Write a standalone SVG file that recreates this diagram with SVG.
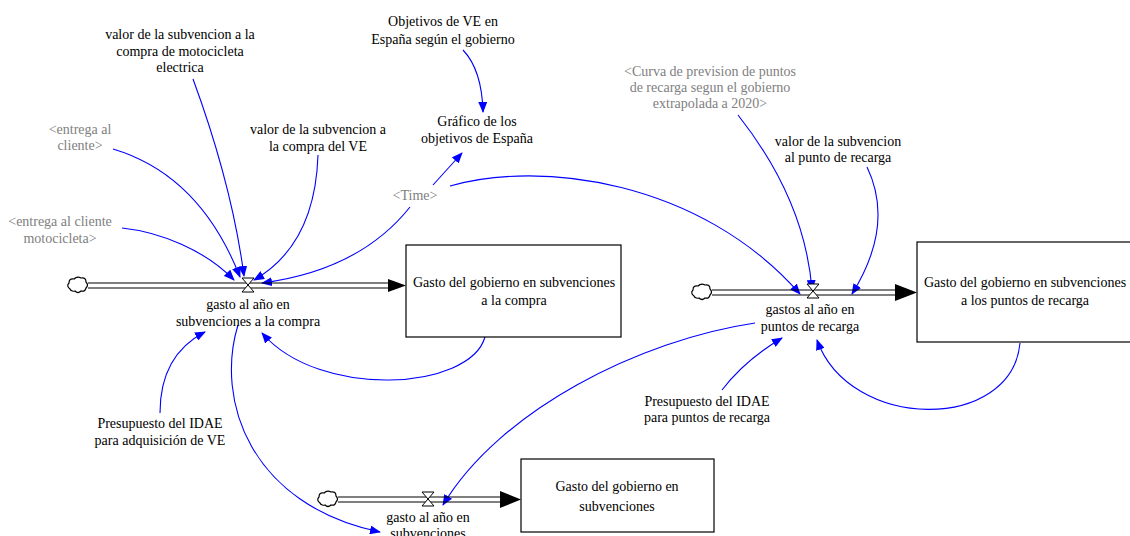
<svg xmlns="http://www.w3.org/2000/svg" width="1130" height="536" viewBox="0 0 1130 536">
<style>
text{font-family:"Liberation Serif","Times New Roman",serif;font-size:14px;fill:#000;text-anchor:middle}
text.g{fill:#808080}
.stock{fill:#fff;stroke:#000;stroke-width:1.2}
.pipe{stroke:#000;stroke-width:1.2;fill:none}
.valve{fill:#fff;stroke:#000;stroke-width:1}
.cloud{fill:#fff;stroke:#000;stroke-width:1.2}
.link{fill:none;stroke:#0000ff;stroke-width:1.1;marker-end:url(#ah)}
</style>
<defs>
<marker id="ah" markerUnits="userSpaceOnUse" markerWidth="11" markerHeight="9" refX="10" refY="4.5" orient="auto">
<path d="M0,0 L11,4.5 L0,9 z" fill="#0000ff"/>
</marker>
</defs>
<rect width="1130" height="536" fill="#fff"/>

<g id="connectors">
<path class="link" d="M193,79 Q232,185 244,276"/>
<path class="link" d="M113,149 Q200,175 240,277"/>
<path class="link" d="M122,228 C160,232 205,250 234,280"/>
<path class="link" d="M318,155 Q315,245 254,280"/>
<path class="link" d="M410,207 Q360,270 262,283"/>
<path class="link" d="M433,185 L462,153"/>
<path class="link" d="M450,186 C540,160 700,180 800,294"/>
<path class="link" d="M463,50 Q482,70 483,112"/>
<path class="link" d="M738,115 Q805,200 812,290"/>
<path class="link" d="M867,167 Q895,225 852,294"/>
<path class="link" d="M722,390 Q745,360 782,338"/>
<path class="link" d="M1020,343 C1012,432 850,432 817,340"/>
<path class="link" d="M755,323 C640,340 500,410 443,505"/>
<path class="link" d="M485,337 C470,390 320,400 262,333"/>
<path class="link" d="M160,413 Q160,355 205,332"/>
<path class="link" d="M238,325 C215,400 250,505 380,532"/>
</g>

<g id="flow1">
<path class="cloud" d="M70,289 q-4,-3 -1,-6 q0,-5 5,-4 q3,-3 7,-1 q5,-1 5,4 q3,3 0,6 q-1,4 -5,3 q-3,3 -6,0 q-4,1 -5,-2 z"/>
<line class="pipe" x1="88" y1="283" x2="392" y2="283"/>
<line class="pipe" x1="88" y1="288" x2="392" y2="288"/>
<polygon points="388,279 406,285.5 388,292" fill="#000"/>
<path class="valve" d="M242,278 L254,278 L248,285 L254,292 L242,292 L248,285 z"/>
<text x="248" y="309">gasto al año en</text>
<text x="248" y="326">subvenciones a la compra</text>
</g>

<g id="flow2">
<path class="cloud" d="M694,296 q-4,-3 -1,-6 q0,-5 5,-4 q3,-3 7,-1 q5,-1 5,4 q3,3 0,6 q-1,4 -5,3 q-3,3 -6,0 q-4,1 -5,-2 z"/>
<line class="pipe" x1="712" y1="290" x2="897" y2="290"/>
<line class="pipe" x1="712" y1="295" x2="897" y2="295"/>
<polygon points="895,284 917,292.5 895,301" fill="#000"/>
<path class="valve" d="M807,284 L819,284 L813,291 L819,298 L807,298 L813,291 z"/>
<text x="810" y="314">gastos al año en</text>
<text x="810" y="331">puntos de recarga</text>
</g>

<g id="flow3">
<path class="cloud" d="M320,503 q-4,-3 -1,-6 q0,-5 5,-4 q3,-3 7,-1 q5,-1 5,4 q3,3 0,6 q-1,4 -5,3 q-3,3 -6,0 q-4,1 -5,-2 z"/>
<line class="pipe" x1="338" y1="497" x2="503" y2="497"/>
<line class="pipe" x1="338" y1="502" x2="503" y2="502"/>
<polygon points="500,491 521,499.5 500,508" fill="#000"/>
<path class="valve" d="M422,492 L434,492 L428,499 L434,506 L422,506 L428,499 z"/>
<text x="428" y="522">gasto al año en</text>
<text x="428" y="538">subvenciones</text>
</g>

<g id="stock1">
<rect class="stock" x="406" y="245" width="215" height="92"/>
<text x="514" y="287">Gasto del gobierno en subvenciones</text>
<text x="514" y="305">a la compra</text>
</g>
<g id="stock2">
<rect class="stock" x="917" y="242" width="216" height="100"/>
<text x="1025" y="287">Gasto del gobierno en subvenciones</text>
<text x="1025" y="305">a los puntos de recarga</text>
</g>
<g id="stock3">
<rect class="stock" x="521" y="459" width="193" height="73"/>
<text x="617" y="491">Gasto del gobierno en</text>
<text x="617" y="511">subvenciones</text>
</g>

<g id="v_moto"><text x="180" y="39">valor de la subvencion a la</text><text x="180" y="56">compra de motocicleta</text><text x="180" y="72">electrica</text></g>
<g id="v_entrega"><text class="g" x="80" y="134">&lt;entrega al</text><text class="g" x="80" y="150">cliente&gt;</text></g>
<g id="v_entrega_moto"><text class="g" x="60" y="226">&lt;entrega al cliente</text><text class="g" x="60" y="243">motocicleta&gt;</text></g>
<g id="v_ve"><text x="318" y="134">valor de la subvencion a</text><text x="318" y="151">la compra del VE</text></g>
<g id="v_objetivos"><text x="443" y="26">Objetivos de VE en</text><text x="443" y="44">España según el gobierno</text></g>
<g id="v_grafico"><text x="477" y="126">Gráfico de los</text><text x="477" y="143">objetivos de España</text></g>
<g id="v_time"><text class="g" x="415" y="200">&lt;Time&gt;</text></g>
<g id="v_curva"><text class="g" x="710" y="76">&lt;Curva de prevision de puntos</text><text class="g" x="710" y="92">de recarga segun el gobierno</text><text class="g" x="710" y="108">extrapolada a 2020&gt;</text></g>
<g id="v_punto"><text x="838" y="146">valor de la subvencion</text><text x="838" y="162">al punto de recarga</text></g>
<g id="v_idae_ve"><text x="160" y="428">Presupuesto del IDAE</text><text x="160" y="445">para adquisición de VE</text></g>
<g id="v_idae_pr"><text x="707" y="406">Presupuesto del IDAE</text><text x="707" y="422">para puntos de recarga</text></g>
</svg>
